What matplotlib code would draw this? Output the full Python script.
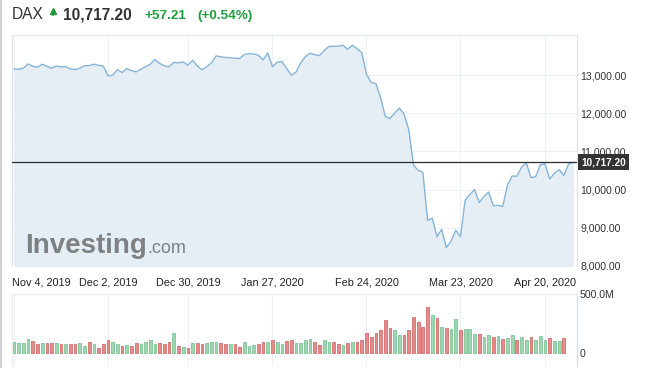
import matplotlib
matplotlib.use('Agg')
import matplotlib.pyplot as plt
from matplotlib.lines import Line2D
from matplotlib.ticker import FuncFormatter
from matplotlib.transforms import blended_transform_factory

plt.rcParams['font.family'] = ['Liberation Sans', 'DejaVu Sans']

W, H, DPI = 645, 368, 100

# ---------------- data ----------------
close = [
    13154, 13154, 13180, 13292, 13232, 13206, 13285, 13232, 13180, 13240,
    13214, 13222, 13162, 13144, 13180, 13248, 13248, 13285, 13258, 13240,
    12979, 12997, 13144, 13065, 13170, 13117, 13084, 13154, 13222, 13285,
    13410, 13305, 13240, 13219, 13332, 13319, 13345, 13261, 13392, 13240,
    13136, 13222, 13319, 13501, 13480, 13462, 13457, 13441, 13436, 13538,
    13559, 13553, 13520, 13397, 13580, 13219, 13337, 13355, 13175, 13000,
    13076, 13319, 13483, 13572, 13535, 13509, 13645, 13749, 13755, 13755,
    13781, 13676, 13781, 13692, 13587, 13023, 12804, 12778, 12413, 11916,
    11864, 12005, 12136, 11979, 11569, 10642, 10504, 10454, 9193, 9253,
    8768, 8958, 8480, 8653, 8940, 8768, 9723, 9872, 10003, 9663,
    9820, 9937, 9577, 9590, 9559, 10112, 10358, 10350, 10582, 10700,
    10316, 10337, 10655, 10676, 10282, 10428, 10525, 10368, 10668, 10717.20,
]

volume_m = [
    92, 83, 83, 117, 100, 77, 83, 83, 83, 83,
    74, 74, 74, 74, 83, 57, 92, 74, 40, 74,
    109, 92, 74, 57, 66, 57, 83, 74, 92, 109,
    74, 83, 74, 92, 169, 57, 49, 40, 83, 83,
    74, 83, 92, 92, 83, 74, 74, 74, 49, 92,
    57, 66, 74, 92, 92, 109, 92, 74, 100, 109,
    83, 83, 109, 117, 92, 66, 109, 92, 92, 74,
    66, 83, 92, 92, 109, 169, 134, 169, 194, 275,
    212, 194, 152, 152, 194, 306, 263, 220, 392, 323,
    297, 220, 212, 203, 289, 194, 203, 203, 160, 160,
    134, 152, 134, 143, 117, 126, 152, 109, 134, 109,
    134, 109, 143, 109, 126, 100, 100, 126,
]

vol_up = [
    1, 1, 1, 1, 0, 0, 1, 0, 0, 1,
    0, 1, 0, 0, 1, 1, 0, 1, 0, 0,
    0, 1, 1, 0, 1, 0, 0, 1, 1, 1,
    1, 0, 0, 0, 1, 0, 1, 0, 1, 0,
    0, 1, 1, 1, 0, 0, 1, 0, 0, 1,
    1, 1, 0, 0, 1, 0, 1, 1, 0, 0,
    1, 1, 1, 1, 0, 0, 1, 1, 0, 0,
    1, 0, 1, 0, 0, 0, 0, 0, 0, 0,
    0, 1, 1, 0, 0, 0, 0, 0, 0, 1,
    0, 1, 0, 1, 1, 0, 1, 1, 1, 0,
    1, 1, 0, 1, 0, 1, 1, 0, 1, 1,
    0, 1, 1, 1, 0, 1, 1, 0,
]

tick_idx = [0, 20, 37, 55, 75, 95, 113]
tick_labels = ["Nov 4, 2019", "Dec 2, 2019", "Dec 30, 2019", "Jan 27, 2020",
               "Feb 24, 2020", "Mar 23, 2020", "Apr 20, 2020"]
price_ticks = [8000, 9000, 10000, 11000, 12000, 13000]
last_price = 10717.20
change = 57.21
change_pct = 0.54
symbol = "DAX"

# ---------------- styling ----------------
LINE = '#86b4da'
FILL = '#e5eef4'
GRID = '#eef1f4'
BORDER = '#e2e6ea'
GREEN_TXT = '#1e9e3e'
UP_FC, UP_EC = '#9fd6b2', '#7cc496'
DN_FC, DN_EC = '#e28c8c', '#d66c6c'

fig = plt.figure(figsize=(W / DPI, H / DPI), dpi=DPI)
fig.patch.set_facecolor('white')

def fx(px):
    return px / W

def fy(py):
    return 1 - py / H

# page left border
fig.add_artist(Line2D([fx(1.2), fx(1.2)], [0, 1], color='#d2d2d2', lw=1.6))

# ---------------- header ----------------
base = fy(19.3)
fig.text(fx(12), base, symbol, fontsize=11.2, color='#333333', va='baseline', ha='left')
fig.add_artist(Line2D([fx(52.5)], [fy(11.0)], marker='^', markersize=4.2,
                      color=GREEN_TXT, linestyle='none'))
fig.add_artist(Line2D([fx(52.5), fx(52.5)], [fy(12), fy(14.5)], color=GREEN_TXT, lw=1.2))
fig.text(fx(63), base, f"{last_price:,.2f}", fontsize=11.2, fontweight='bold',
         color='#333333', va='baseline', ha='left')
fig.text(fx(144), base, f"+{change:.2f}", fontsize=9.7, fontweight='bold',
         color=GREEN_TXT, va='baseline', ha='left')
fig.text(fx(197), base, f"(+{change_pct:.2f}%)", fontsize=9.7, fontweight='bold',
         color=GREEN_TXT, va='baseline', ha='left')

# ---------------- price panel ----------------
n = len(close)
x = list(range(n))
xl = (-0.43, 119.8)

ax = fig.add_axes([fx(12), fy(266), fx(577) - fx(12), fy(35) - fy(266)])
ax.set_facecolor('white')
ax.set_xlim(*xl)
ax.set_ylim(8000, 14050)
ax.fill_between(x, close, 7000, color=FILL, lw=0, zorder=1)
ax.plot(x, close, color=LINE, lw=1.0, zorder=3)

ax.set_yticks(price_ticks)
ax.yaxis.tick_right()
ax.yaxis.set_major_formatter(FuncFormatter(lambda v, p: f"{v:,.2f}"))
ax.tick_params(axis='y', length=0, pad=2.2, labelsize=7.6, labelcolor='#333333')
ax.set_xticks(tick_idx)
ax.set_xticklabels([])
ax.tick_params(axis='x', length=0)
ax.grid(True, color=GRID, lw=0.8, zorder=0)
ax.set_axisbelow(True)
for s in ['top', 'left', 'right']:
    ax.spines[s].set_color(BORDER)
    ax.spines[s].set_linewidth(0.9)
ax.spines['bottom'].set_visible(False)

ax.axhline(last_price, color='#2b2b2b', lw=0.9, zorder=4)
trans = blended_transform_factory(ax.transAxes, ax.transData)
ax.text(1.0 + 4.0 / 565, last_price, f"{last_price:,.2f}", transform=trans,
        ha='left', va='center', color='white', fontweight='bold', fontsize=7.2,
        bbox=dict(boxstyle='square,pad=0.28', fc='#333333', ec='none'),
        zorder=6, clip_on=False)

# watermark
ax.text(fx(26) / 1.0, 0, '', transform=fig.transFigure)
fig.text(fx(25.5), fy(252.7), 'Investing', fontsize=20, fontweight='bold',
         color='#7f8084', va='baseline', ha='left', zorder=5)
fig.text(fx(147), fy(252.7), '.com', fontsize=13, color='#7f8084',
         va='baseline', ha='left', zorder=5)

# x labels
xtr = blended_transform_factory(ax.transData, fig.transFigure)
for i, (ti, lab) in enumerate(zip(tick_idx, tick_labels)):
    ax.text(ti if i else -0.43, fy(282.5), lab, transform=xtr,
            ha='left' if i == 0 else 'center', va='center',
            fontsize=7.8, color='#222222', clip_on=False)

# ---------------- volume panel ----------------
vax = fig.add_axes([fx(12), fy(366), fx(577) - fx(12), fy(294) - fy(366)])
vax.set_xlim(*xl)
vax.set_ylim(-113, 500)
vx = list(range(len(volume_m)))
vax.bar(vx, volume_m, width=0.58,
        color=[UP_FC if u else DN_FC for u in vol_up],
        edgecolor=[UP_EC if u else DN_EC for u in vol_up], lw=0.6, zorder=3)
vax.set_xticks(tick_idx)
vax.set_xticklabels([])
vax.tick_params(axis='x', length=0)
vax.grid(True, axis='x', color=GRID, lw=0.8, zorder=0)
vax.set_yticks([0, 500])
vax.set_yticklabels(['0', '500.0M'])
vax.yaxis.tick_right()
vax.tick_params(axis='y', length=0, pad=2.2, labelsize=7.6, labelcolor='#333333')
vax.spines['bottom'].set_visible(False)
vax.spines['top'].set_color('#eceef0')
vax.spines['left'].set_color('#eceef0')
vax.spines['right'].set_color('#d5dde6')
for s in vax.spines.values():
    s.set_linewidth(0.9)

fig.savefig('out.png', dpi=DPI, facecolor='white')
